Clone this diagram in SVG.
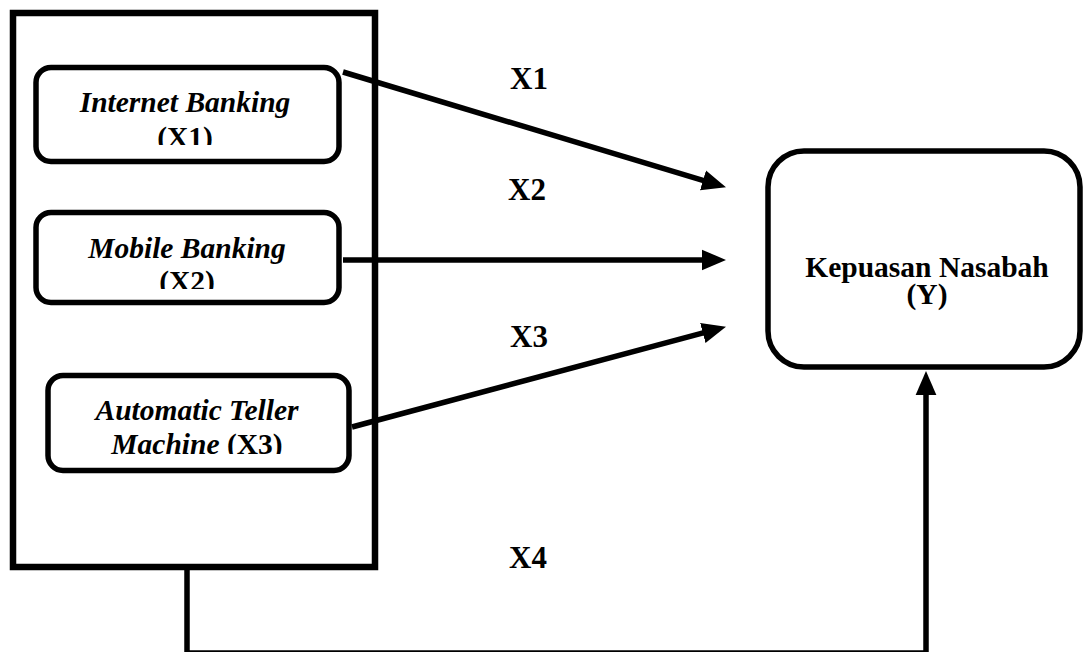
<svg xmlns="http://www.w3.org/2000/svg" width="1084" height="652" viewBox="0 0 1084 652">
<style>
.box{fill:#fff;stroke:#000;stroke-width:6.5}
.node{fill:#fff;stroke:#000;stroke-width:5.5}
.conn{fill:none;stroke:#000;stroke-width:5.5}
.t{font-family:"Liberation Serif","Times New Roman",serif;font-weight:bold;font-size:29.5px;fill:#000;text-anchor:middle}
.lbl{font-size:31px}
.i{font-style:italic}
</style>
<defs>
<marker id="ah" markerUnits="userSpaceOnUse" markerWidth="24" markerHeight="24" viewBox="0 0 22 22" refX="11" refY="11" orient="auto">
<path d="M0,1.5 L22,11 L0,20.5 z" fill="#000"/>
</marker>
<clipPath id="c1"><rect x="36" y="70" width="303" height="75"/></clipPath>
<clipPath id="c2"><rect x="36" y="215" width="303" height="74"/></clipPath>
<clipPath id="c3"><rect x="48" y="378" width="301" height="76"/></clipPath>
</defs>
<g id="group-box"><rect class="box" x="13" y="13" width="362" height="554"/></g>
<g id="connectors">
<line class="conn" x1="343" y1="72" x2="714.5" y2="183.8" marker-end="url(#ah)"/>
<line class="conn" x1="343" y1="260" x2="714" y2="260" marker-end="url(#ah)"/>
<line class="conn" x1="352" y1="427" x2="714.4" y2="329.9" marker-end="url(#ah)"/>
<path class="conn" d="M187,567 V653 H926 V383" marker-end="url(#ah)"/>
<text class="t lbl" x="529" y="89">X1</text>
<text class="t lbl" x="527" y="200">X2</text>
<text class="t lbl" x="529" y="347">X3</text>
<text class="t lbl" x="528" y="568">X4</text>
</g>
<g id="node-x1">
<rect class="node" x="36" y="67.5" width="303" height="94" rx="15"/>
<g clip-path="url(#c1)">
<text class="t i" x="185" y="112">Internet Banking</text>
<text class="t" x="185" y="147">(X1)</text>
</g>
</g>
<g id="node-x2">
<rect class="node" x="36" y="212.5" width="303" height="90" rx="15"/>
<g clip-path="url(#c2)">
<text class="t i" x="187" y="258">Mobile Banking</text>
<text class="t" x="187" y="291">(X2)</text>
</g>
</g>
<g id="node-x3">
<rect class="node" x="48" y="375.5" width="301" height="95" rx="15"/>
<g clip-path="url(#c3)">
<text class="t i" x="197" y="420">Automatic Teller</text>
<text class="t" x="197" y="454"><tspan class="i">Machine</tspan> (X3)</text>
</g>
</g>
<g id="node-y">
<rect class="node" x="768" y="151" width="312" height="216" rx="36"/>
<text class="t" x="927" y="277">Kepuasan Nasabah</text>
<text class="t" x="927" y="304">(Y)</text>
</g>
</svg>
